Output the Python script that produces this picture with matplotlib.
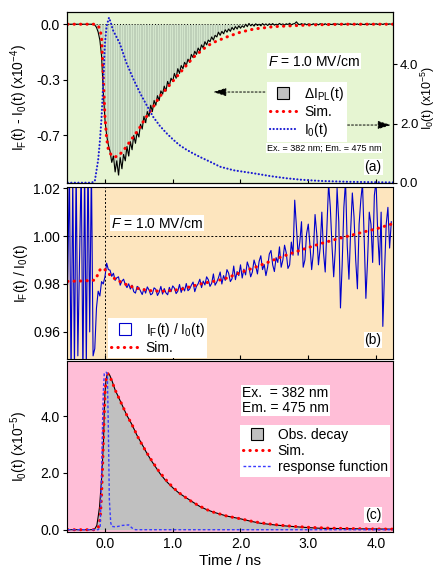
import numpy as np
import matplotlib
matplotlib.use('Agg')
import matplotlib.pyplot as plt
from matplotlib.lines import Line2D
from matplotlib.ticker import FormatStrFormatter

# ---- panel (a): I_F(t) - I_0(t)  (x1e-4), sampled every 0.025 ns from -0.55 ns
black_a = [0.0, 0.0, 0.0, 0.0, 0.0, 0.0, 0.0, 0.0, 0.0, 0.0, 0.0, 0.0, 0.0, 0.0, 0.0, 0.0,
           -0.005, -0.02, -0.05, -0.10, -0.20, -0.42, -0.60, -0.70,
           -0.76, -0.80, -0.87, -0.83, -0.93, -0.86, -0.95, -0.84,
           -0.91, -0.82, -0.86, -0.77, -0.83, -0.74, -0.79, -0.70,
           -0.75, -0.68, -0.71, -0.63, -0.66, -0.58, -0.62, -0.55,
           -0.58, -0.51, -0.55, -0.48, -0.51, -0.45, -0.48, -0.42,
           -0.44, -0.39, -0.42, -0.36, -0.39, -0.34, -0.36, -0.31,
           -0.34, -0.28, -0.31, -0.26, -0.28, -0.24, -0.26, -0.22,
           -0.24, -0.19, -0.21, -0.17, -0.19, -0.15, -0.17, -0.13,
           -0.15, -0.11, -0.13, -0.10, -0.11, -0.08, -0.10, -0.07,
           -0.08, -0.05, -0.07, -0.045, -0.06, -0.035, -0.05, -0.03,
           -0.045, -0.02, -0.035, -0.015, -0.03, -0.01, -0.025, -0.01,
           -0.02, 0.0, -0.015, 0.005, -0.01, 0.0, -0.012, 0.003,
           -0.008, 0.0, -0.01, 0.004, -0.006, 0.002, -0.008, 0.003,
           -0.005, 0.004, -0.006, 0.0, -0.004, 0.005, -0.003, 0.002,
           -0.005, 0.003, -0.002, 0.006, -0.004, 0.002, 0.004, 0.015,
           0.002, -0.003, 0.004, -0.002, 0.003, -0.004, 0.002, 0.0,
           -0.003, 0.003, -0.002, 0.002, -0.004, 0.003, 0.0, -0.002,
           0.003, -0.003, 0.002, 0.0, -0.002, 0.003, -0.003, 0.002,
           0.0, -0.002, 0.003, -0.002, 0.002, -0.003, 0.001, 0.002,
           -0.002, 0.003, -0.001, 0.002, -0.003, 0.002, 0.0, -0.002,
           0.003, -0.002, 0.002, -0.001, 0.002, -0.002, 0.003, 0.0,
           -0.002, 0.002, -0.001, 0.003, -0.002, 0.001, 0.002, 0.0]

t_sim_a = [-0.55, -0.3, -0.15, -0.1, -0.075, -0.05, -0.025, 0.0, 0.025, 0.05, 0.1, 0.15,
           0.2, 0.3, 0.4, 0.5, 0.6, 0.7, 0.8, 0.9, 1.0, 1.1, 1.2, 1.3, 1.4, 1.5, 1.6,
           1.8, 2.0, 2.2, 2.5, 3.0, 3.5, 4.25]
sim_a = [0.0, 0.0, 0.0, -0.01, -0.03, -0.08, -0.33, -0.58, -0.72, -0.79, -0.83, -0.835,
         -0.83, -0.78, -0.72, -0.66, -0.59, -0.53, -0.46, -0.41, -0.36, -0.31, -0.26,
         -0.21, -0.175, -0.14, -0.115, -0.08, -0.05, -0.03, -0.015, -0.005, 0.0, 0.0]

t_i0a = [-0.55, -0.2, -0.15, -0.1, -0.075, -0.05, -0.025, 0.0, 0.025, 0.06, 0.08, 0.12,
         0.22, 0.32, 0.42, 0.52, 0.62, 0.71, 0.81, 0.91, 1.0, 1.1, 1.2, 1.3, 1.42, 1.55,
         1.7, 1.9, 2.19, 2.45, 2.68, 2.9, 3.18, 3.6, 4.25]
i0a = [0.0, 0.0, 0.05, 0.77, 1.4, 2.2, 3.4, 4.7, 5.3, 5.58, 5.45, 5.15, 4.7, 4.03, 3.5,
       3.02, 2.6, 2.23, 1.92, 1.67, 1.47, 1.27, 1.12, 0.99, 0.85, 0.71, 0.54, 0.42, 0.32,
       0.22, 0.15, 0.1, 0.06, 0.03, 0.01]

# ---- panel (b): I_F(t) / I_0(t), same time grid
ratio_b = [0.980, 1.030, 0.940, 1.025, 0.945, 1.030, 0.950, 0.990,
           1.030, 0.940, 1.030, 0.945, 1.035, 0.960, 1.030, 0.950,
           0.953, 0.970, 0.977, 0.975, 0.981, 0.980,
           0.983, 0.9887, 0.986, 0.9858, 0.9832, 0.9845, 0.9815, 0.9826,
           0.9830, 0.9795, 0.9812, 0.9820, 0.9798, 0.9785, 0.9801, 0.9779,
           0.9795, 0.9768, 0.9762, 0.9790, 0.9785, 0.9771, 0.9756, 0.9780,
           0.9762, 0.9788, 0.9775, 0.9755, 0.9760, 0.9784, 0.9778, 0.9752,
           0.9766, 0.9790, 0.9758, 0.9781, 0.9763, 0.9755, 0.9786, 0.9768,
           0.9792, 0.9783, 0.9760, 0.9770, 0.9798, 0.9765, 0.9787, 0.9771,
           0.9802, 0.9772, 0.9779, 0.9795, 0.9808, 0.9768, 0.9790, 0.9801,
           0.9820, 0.9785, 0.9812, 0.9796, 0.9830, 0.9818, 0.9790, 0.9803,
           0.9842, 0.9795, 0.9808, 0.9826, 0.9850, 0.9800, 0.9835, 0.9815,
           0.9860, 0.9845, 0.9810, 0.9822, 0.9875, 0.9818, 0.9852, 0.9835,
           0.9880, 0.9825, 0.9862, 0.9838, 0.9892, 0.9870, 0.9830, 0.9850,
           0.9900, 0.9875, 0.9842, 0.9895, 0.9918, 0.9860, 0.9881, 0.9835,
           0.9870, 0.9925, 0.9940, 0.9880, 0.9852, 0.9910, 0.9890, 0.9955,
           0.9870, 0.9900, 0.9962, 0.9930, 0.9865, 0.9880, 0.9975, 0.9920,
           1.0150, 1.0040, 0.9920, 0.9975, 1.0060, 0.9870, 0.9900, 1.0010,
           1.0050, 0.9960, 0.9860, 0.9930, 1.0090, 1.0010, 0.9880, 0.9950,
           1.0100, 0.9930, 0.9850, 1.0040, 1.0220, 1.0120, 0.9960, 0.9830,
           0.9950, 1.0200, 1.0060, 0.9700, 0.9880, 1.0120, 1.0230, 0.9960,
           0.9820, 1.0020, 1.0180, 1.0080, 0.9900, 0.9780, 1.0050, 1.0150,
           1.0220, 0.9990, 0.9740, 0.9900, 1.0100, 1.0050, 0.9890, 1.0170,
           1.0230, 1.0010, 0.9880, 1.0100, 0.9623, 0.9850, 1.0050, 1.0120,
           0.9950, 1.0060]

t_sim_b = [-0.55, -0.3, -0.15, -0.12, -0.09, -0.06, -0.03, 0.0, 0.05, 0.1, 0.17, 0.25,
           0.32, 0.42, 0.52, 0.62, 0.71, 0.85, 1.0, 1.15, 1.3, 1.45, 1.6, 1.7, 1.8, 2.0,
           2.2, 2.4, 2.6, 2.8, 3.0, 3.2, 3.4, 3.6, 3.8, 4.0, 4.25]
sim_b = [0.9811, 0.9813, 0.9816, 0.9830, 0.9852, 0.9864, 0.9866, 0.9860, 0.9845, 0.9830,
         0.9818, 0.9806, 0.9797, 0.9786, 0.9779, 0.9774, 0.9771, 0.9770, 0.9773, 0.9780,
         0.9792, 0.9803, 0.9811, 0.9817, 0.9825, 0.9848, 0.9868, 0.9890, 0.9913, 0.9933,
         0.9952, 0.9970, 0.9986, 1.0001, 1.0016, 1.0030, 1.0052]

# ---- panel (c): I_0(t) decay (x1e-5)
t_c = [-0.55, -0.2, -0.15, -0.12, -0.1, -0.08, -0.065, -0.05, -0.035, -0.02, -0.01, 0.0,
       0.015, 0.03, 0.05, 0.07, 0.1, 0.15, 0.22, 0.32, 0.4, 0.47, 0.55, 0.62, 0.7, 0.81,
       0.9, 1.01, 1.1, 1.21, 1.3, 1.4, 1.5, 1.6, 1.7, 1.8, 2.0, 2.15, 2.29, 2.5, 2.68,
       2.9, 3.18, 3.5, 3.8, 4.25]
obs_c = [0.0, 0.0, 0.03, 0.15, 0.46, 0.8, 1.29, 1.8, 2.46, 3.2, 4.22, 4.8, 5.28, 5.45,
         5.52, 5.45, 5.28, 4.93, 4.57, 4.05, 3.7, 3.34, 3.0, 2.69, 2.38, 1.99, 1.72, 1.46,
         1.28, 1.11, 0.97, 0.82, 0.71, 0.62, 0.55, 0.48, 0.385, 0.30, 0.23, 0.17, 0.13,
         0.09, 0.05, 0.04, 0.03, 0.02]

t_sim_c = [-0.55, -0.15, -0.1, -0.07, -0.05, -0.03, -0.015, 0.0, 0.02, 0.04, 0.06, 0.1,
           0.15, 0.22, 0.32, 0.4, 0.5, 0.6, 0.7, 0.8, 0.9, 1.0, 1.1, 1.2, 1.3, 1.4, 1.5,
           1.6, 1.7, 1.8, 2.0, 2.2, 2.4, 2.6, 2.8, 3.0, 3.3, 3.6, 4.0, 4.25]
sim_c = [0.0, 0.0, 0.05, 0.4, 1.2, 2.6, 3.8, 4.8, 5.35, 5.5, 5.45, 5.25, 4.93, 4.57, 4.05,
         3.7, 3.2, 2.78, 2.4, 2.05, 1.76, 1.5, 1.29, 1.12, 0.96, 0.83, 0.71, 0.62, 0.55,
         0.48, 0.385, 0.28, 0.21, 0.155, 0.115, 0.085, 0.055, 0.04, 0.025, 0.02]

t_irf = [-0.55, -0.1, -0.07, -0.05, -0.035, -0.025, -0.01, 0.0, 0.02, 0.035, 0.05, 0.065,
         0.085, 0.1, 0.15, 0.2, 0.25, 0.3, 0.35, 0.4, 0.45, 4.25]
irf = [0.0, 0.0, 0.1, 1.87, 3.8, 4.8, 5.5, 5.55, 5.55, 5.5, 3.6, 1.05, 0.25, 0.12, 0.1,
       0.12, 0.15, 0.16, 0.17, 0.06, 0.0, 0.0]

x_ticks = [0.0, 1.0, 2.0, 3.0, 4.0]

t_a = -0.55 + 0.025 * np.arange(len(black_a))
t_b = -0.55 + 0.025 * np.arange(len(ratio_b))

plt.rcParams['font.family'] = ['Liberation Sans', 'DejaVu Sans']
plt.rcParams['mathtext.fontset'] = 'custom'
plt.rcParams['mathtext.rm'] = 'Liberation Sans'
plt.rcParams['mathtext.it'] = 'Liberation Sans:italic'
plt.rcParams['font.size'] = 10

red = dict(color='#ff0000', lw=2.2, ls=(0, (0.1, 2.0)), dash_capstyle='round')
blue_dots = dict(color='#1a1ad2', lw=1.5, ls=(0, (0.1, 1.6)), dash_capstyle='round')
irf_style = dict(color='#3a3aff', lw=1.0, ls=(0, (2, 1.5)))
guide = dict(color='k', lw=0.7, ls=(0, (2, 2)))
white_box = dict(facecolor='white', edgecolor='none', pad=0.6)

fig = plt.figure(figsize=(4.39, 5.68), dpi=100)
ax_a = fig.add_axes([0.1526, 0.6778, 0.7426, 0.3011])
ax_b = fig.add_axes([0.1526, 0.3680, 0.7426, 0.3028])
ax_c = fig.add_axes([0.1526, 0.0634, 0.7426, 0.3011])

for ax in (ax_a, ax_b, ax_c):
    ax.set_xlim(-0.56, 4.25)
    ax.set_xticks(x_ticks)
    ax.xaxis.set_major_formatter(FormatStrFormatter('%.1f'))
    ax.tick_params(axis='x', direction='in', length=3, width=0.8)
    ax.tick_params(axis='y', direction='out', length=3, width=0.8, labelsize=10, pad=2)
    ax.yaxis.set_label_coords(-0.115, 0.5)
    for s in ax.spines.values():
        s.set_linewidth(0.8)

# (a)
ax_a.set_facecolor('#e6f5d2')
ax_a.fill_between(t_a, black_a, 0, color='#d3e6cc', lw=0)
ax_a.vlines(t_a, black_a, 0, colors='#b2c4ae', lw=0.45)
ax_a.axhline(0, color='k', lw=0.7, ls=(0, (1, 2)))
ax_a.plot(t_a, black_a, color='k', lw=0.8)
ax_a.plot(t_sim_a, sim_a, **red)
ax_a.set_ylim(-1.0, 0.077)
ax_a.set_yticks([0.0, -0.35, -0.7])
ax_a.yaxis.set_major_formatter(FormatStrFormatter('%.1f'))
ax_a.tick_params(axis='x', labelbottom=False)
ax_a.set_ylabel(r'I$_{\rm F}$(t) - I$_0$(t) (x10$^{-4}$)')

ax_r = ax_a.twinx()
ax_r.plot(t_i0a, i0a, **blue_dots)
ax_r.set_ylim(-0.01, 5.77)
ax_r.set_yticks([0.0, 2.0, 4.0])
ax_r.yaxis.set_major_formatter(FormatStrFormatter('%.1f'))
ax_r.tick_params(axis='y', direction='out', length=3, width=0.8, labelsize=9.5, pad=2)
ax_r.set_ylabel(r'I$_0$(t) (x10$^{-5}$)', fontsize=9)
ax_r.yaxis.set_label_coords(1.078, 0.5)

ax_r.text(0.617, 0.713, r'$\it{F}$ = 1.0 MV/cm', transform=ax_r.transAxes,
          va='center', bbox=white_box)
ha = [Line2D([], [], marker='s', ls='none', mfc='#c0c0c0', mec='k', ms=8, mew=0.8),
      Line2D([], [], **red), Line2D([], [], **blue_dots)]
la = [r'$\Delta$I$_{\rm PL}$(t)', 'Sim.', r'I$_0$(t)']
ax_r.legend(ha, la, loc='upper left', bbox_to_anchor=(0.613, 0.59), facecolor='white',
            edgecolor='none', framealpha=1, fancybox=False, handlelength=2.0,
            handletextpad=0.5, labelspacing=0.15, borderpad=0.2, borderaxespad=0)
ax_r.annotate('', xy=(0.448, 0.532), xytext=(0.607, 0.532), xycoords='axes fraction',
              arrowprops=dict(arrowstyle='-|>,head_length=0.8,head_width=0.25',
                              shrinkA=0, shrinkB=0, **guide))
ax_r.annotate('', xy=(0.994, 0.339), xytext=(0.837, 0.339), xycoords='axes fraction',
              arrowprops=dict(arrowstyle='-|>,head_length=0.8,head_width=0.25',
                              shrinkA=0, shrinkB=0, **guide))
ax_r.text(0.613, 0.205, 'Ex. = 382 nm; Em. = 475 nm', fontsize=6.5,
          transform=ax_r.transAxes, va='center', bbox=white_box)
ax_r.text(0.939, 0.094, '(a)', transform=ax_r.transAxes, ha='center', va='center',
          bbox=white_box)

# (b)
ax_b.set_facecolor('#fde5be')
ax_b.axhline(1.0, **guide)
ax_b.axvline(0.0, **guide)
ax_b.plot(t_b, ratio_b, color='#0000cc', lw=0.8)
ax_b.plot(t_sim_b, sim_b, **red)
ax_b.set_ylim(0.9487, 1.0205)
ax_b.set_yticks([0.96, 0.98, 1.00, 1.02])
ax_b.yaxis.set_major_formatter(FormatStrFormatter('%.2f'))
ax_b.tick_params(axis='x', labelbottom=False)
ax_b.set_ylabel(r'I$_{\rm F}$(t) / I$_0$(t)')
ax_b.text(0.135, 0.79, r'$\it{F}$ = 1.0 MV/cm', transform=ax_b.transAxes,
          va='center', bbox=white_box)
hb = [Line2D([], [], marker='s', ls='none', mfc='white', mec='#0000cc', ms=8, mew=0.8),
      Line2D([], [], **red)]
lb = [r'I$_{\rm F}$(t) / I$_0$(t)', 'Sim.']
ax_b.legend(hb, lb, loc='upper left', bbox_to_anchor=(0.126, 0.238), facecolor='white',
            edgecolor='none', framealpha=1, fancybox=False, handlelength=2.0,
            handletextpad=0.5, labelspacing=0.15, borderpad=0.2, borderaxespad=0)
ax_b.text(0.939, 0.11, '(b)', transform=ax_b.transAxes, ha='center', va='center',
          bbox=white_box)

# (c)
ax_c.set_facecolor('#ffbed7')
ax_c.fill_between(t_c, obs_c, 0, color='#c0c0c0', lw=0)
ax_c.plot(t_c, obs_c, color='k', lw=0.8)
ax_c.plot(t_sim_c, sim_c, **red)
ax_c.plot(t_irf, irf, **irf_style)
ax_c.set_ylim(-0.08, 5.95)
ax_c.set_yticks([0.0, 2.0, 4.0])
ax_c.yaxis.set_major_formatter(FormatStrFormatter('%.1f'))
ax_c.tick_params(axis='x', labelsize=10)
ax_c.set_ylabel(r'I$_0$(t) (x10$^{-5}$)')
ax_c.set_xlabel('Time / ns', fontsize=11, labelpad=2)
ax_c.text(0.537, 0.854, 'Ex.  = 382 nm\nEm. = 475 nm', transform=ax_c.transAxes,
          va='top', linespacing=1.1, bbox=white_box)
hc = [Line2D([], [], marker='s', ls='none', mfc='#c0c0c0', mec='k', ms=8, mew=0.8),
      Line2D([], [], **red), Line2D([], [], **irf_style)]
lc = ['Obs. decay', 'Sim.', 'response function']
ax_c.legend(hc, lc, loc='upper left', bbox_to_anchor=(0.531, 0.626), facecolor='white',
            edgecolor='none', framealpha=1, fancybox=False, handlelength=2.0,
            handletextpad=0.5, labelspacing=0.15, borderpad=0.2, borderaxespad=0)
ax_c.text(0.939, 0.1, '(c)', transform=ax_c.transAxes, ha='center', va='center',
          bbox=white_box)

fig.savefig('out.png', dpi=100)
